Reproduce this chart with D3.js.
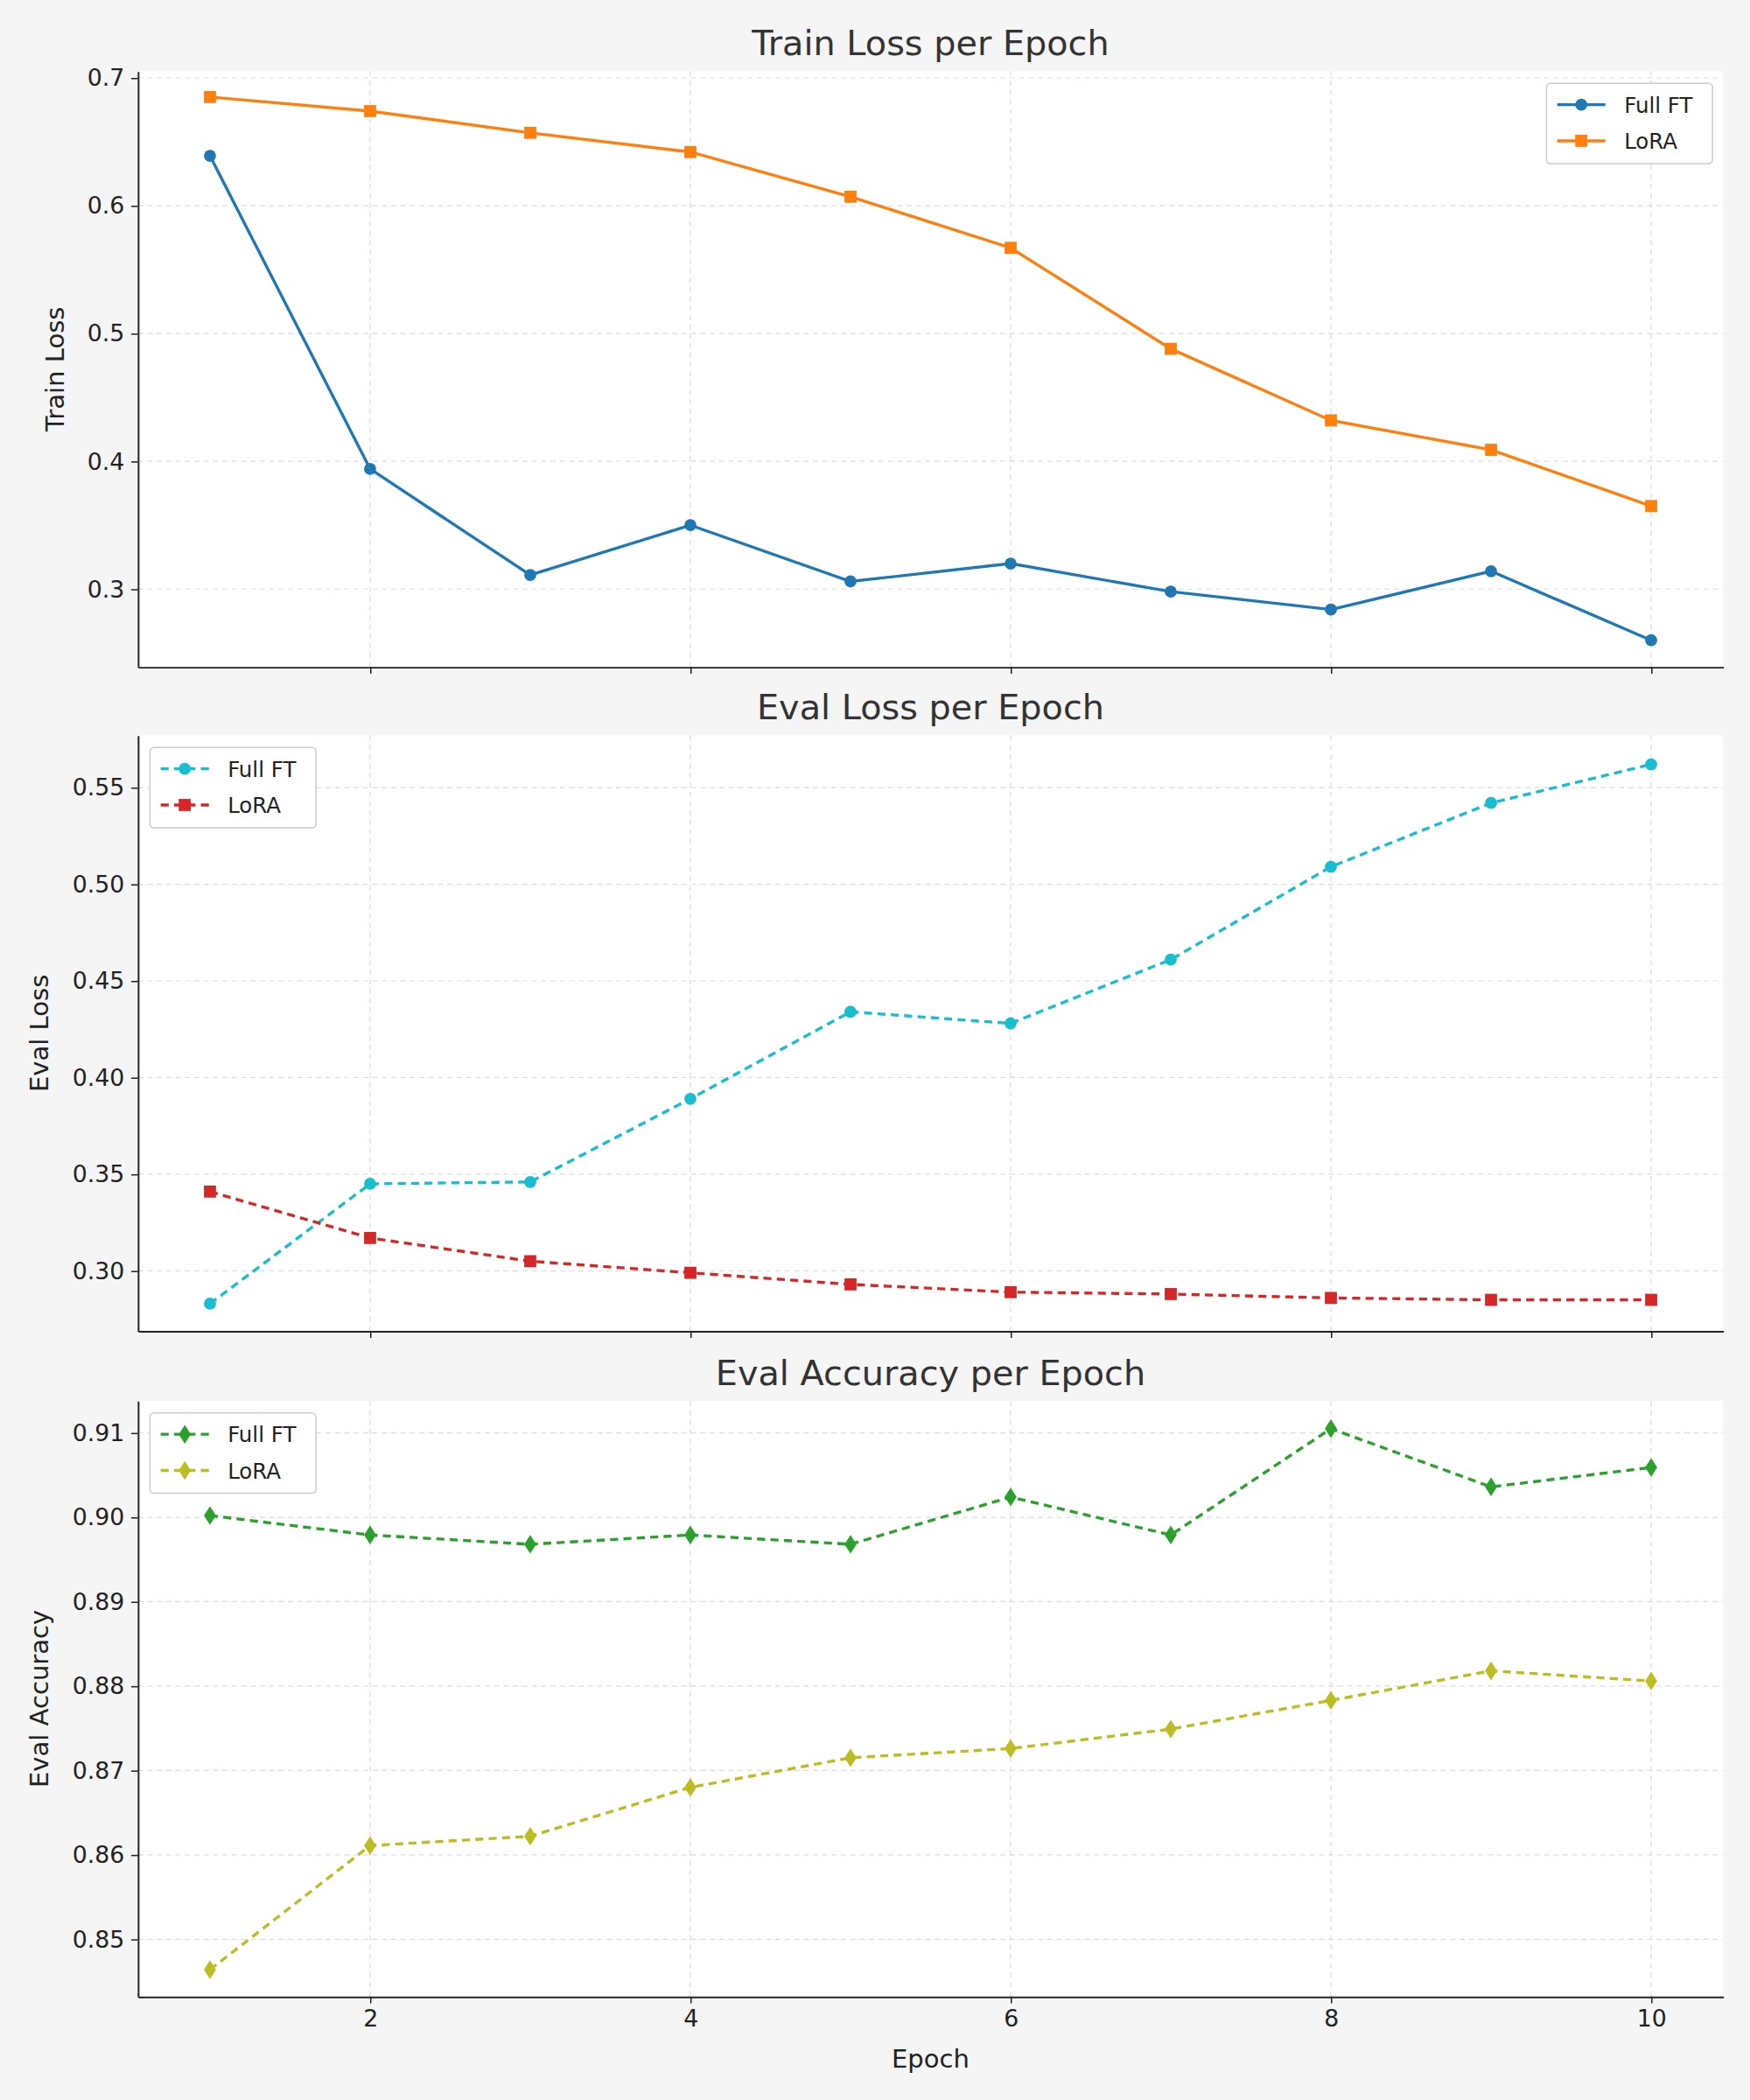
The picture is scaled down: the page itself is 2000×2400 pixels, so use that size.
<!DOCTYPE html>
<html><head><meta charset="utf-8">
<script src="https://cdn.jsdelivr.net/npm/d3@7"></script>
<style>body{margin:0;background:#f5f5f5}</style>
</head><body>
<div id="chart"></div>
<script>
var epochs = [1, 2, 3, 4, 5, 6, 7, 8, 9, 10];
var trainFull = [0.639, 0.394, 0.311, 0.350, 0.306, 0.320, 0.298, 0.284, 0.314, 0.260];
var trainLora = [0.685, 0.674, 0.657, 0.642, 0.607, 0.567, 0.488, 0.432, 0.409, 0.365];
var evalLossFull = [0.283, 0.345, 0.346, 0.389, 0.434, 0.428, 0.461, 0.509, 0.542, 0.562];
var evalLossLora = [0.341, 0.317, 0.305, 0.299, 0.293, 0.289, 0.288, 0.286, 0.285, 0.285];
var evalAccFull = [0.9002, 0.8979, 0.8968, 0.8979, 0.8968, 0.9024, 0.8979, 0.9105, 0.9036, 0.9059];
var evalAccLora = [0.8464, 0.8611, 0.8622, 0.8680, 0.8715, 0.8726, 0.8749, 0.8783, 0.8818, 0.8806];
var xTicks = [2, 4, 6, 8, 10];

var panels = [
  {title: "Train Loss per Epoch", ylabel: "Train Loss", top: 53, dom: [0.239, 0.7052],
   ticks: [0.3, 0.4, 0.5, 0.6, 0.7], fmt: ".1f", legend: "right", dash: null,
   series: [{name: "Full FT", v: trainFull, c: "#1f77b4", sym: "circle"}, {name: "LoRA", v: trainLora, c: "#ff7f0e", sym: "square"}]},
  {title: "Eval Loss per Epoch", ylabel: "Eval Loss", top: 549, dom: [0.2688, 0.577],
   ticks: [0.30, 0.35, 0.40, 0.45, 0.50, 0.55], fmt: ".2f", legend: "left", dash: "6,4",
   series: [{name: "Full FT", v: evalLossFull, c: "#17becf", sym: "circle"}, {name: "LoRA", v: evalLossLora, c: "#d62728", sym: "square"}]},
  {title: "Eval Accuracy per Epoch", ylabel: "Eval Accuracy", top: 1046, dom: [0.8432, 0.9138],
   ticks: [0.85, 0.86, 0.87, 0.88, 0.89, 0.90, 0.91], fmt: ".2f", legend: "left", dash: "6,4",
   series: [{name: "Full FT", v: evalAccFull, c: "#2ca02c", sym: "diamond"}, {name: "LoRA", v: evalAccLora, c: "#bcbd22", sym: "diamond"}]}
];

var svg = d3.select("#chart").append("svg")
  .attr("width", 2000).attr("height", 2400)
  .attr("viewBox", "0 0 1307 1568")
  .style("font-family", "DejaVu Sans, sans-serif");
svg.append("rect").attr("width", 1307).attr("height", 1568).attr("fill", "#f5f5f5");

var left = 103, right = 1287, ph = 445;
var x = d3.scaleLinear().domain([0.55, 10.45]).range([left, right]);

function marker(g, sym, cx, cy, c) {
  if (sym === "circle") g.append("circle").attr("cx", cx).attr("cy", cy).attr("r", 4.5).attr("fill", c);
  else if (sym === "square") g.append("rect").attr("x", cx - 4.5).attr("y", cy - 4.5).attr("width", 9).attr("height", 9).attr("fill", c);
  else g.append("path").attr("d", "M0,-7L4.5,0L0,7L-4.5,0Z").attr("transform", "translate(" + [cx, cy] + ")").attr("fill", c);
}

panels.forEach(function(p, i) {
  var y = d3.scaleLinear().domain(p.dom).range([p.top + ph, p.top]);
  var g = svg.append("g");
  g.append("rect").attr("x", left).attr("y", p.top).attr("width", right - left).attr("height", ph).attr("fill", "white");
  // grid
  xTicks.forEach(function(t) {
    g.append("line").attr("x1", x(t)).attr("x2", x(t)).attr("y1", p.top).attr("y2", p.top + ph)
      .attr("stroke", "#dddddd").attr("stroke-dasharray", "4,3").attr("stroke-width", 0.8);
  });
  p.ticks.forEach(function(t) {
    g.append("line").attr("x1", left).attr("x2", right).attr("y1", y(t)).attr("y2", y(t))
      .attr("stroke", "#dddddd").attr("stroke-dasharray", "4,3").attr("stroke-width", 0.8);
  });
  // axes
  var ya = g.append("g").attr("transform", "translate(" + left + ",0)")
    .call(d3.axisLeft(y).tickValues(p.ticks).tickFormat(d3.format(p.fmt)).tickSizeInner(5).tickSizeOuter(0).tickPadding(5));
  var xa = g.append("g").attr("transform", "translate(0," + (p.top + ph) + ")")
    .call(d3.axisBottom(x).tickValues(xTicks).tickSizeInner(5).tickSizeOuter(0).tickPadding(5).tickFormat(i === 2 ? d3.format("d") : ""));
  [ya, xa].forEach(function(a) {
    a.selectAll("text").attr("font-size", 17.5).attr("fill", "#222").attr("font-family", "DejaVu Sans, sans-serif");
    a.select(".domain").attr("stroke", "#222").attr("stroke-width", 1.3);
    a.selectAll(".tick line").attr("stroke", "#222");
  });
  // title + label
  g.append("text").attr("x", (left + right) / 2).attr("y", p.top - 12).attr("text-anchor", "middle")
    .attr("font-size", 26).attr("fill", "#333").text(p.title);
  g.append("text").attr("transform", "translate(" + (p.ylabel === "Train Loss" ? 48 : 36) + "," + (p.top + ph / 2) + ") rotate(-90)")
    .attr("text-anchor", "middle").attr("font-size", 19).attr("fill", "#222").text(p.ylabel);
  // series
  var line = d3.line().x(function(d, j) { return x(epochs[j]); }).y(function(d) { return y(d); });
  p.series.forEach(function(s) {
    g.append("path").datum(s.v).attr("d", line).attr("fill", "none").attr("stroke", s.c)
      .attr("stroke-width", 2.2).attr("stroke-dasharray", p.dash);
    s.v.forEach(function(d, j) { marker(g, s.sym, x(epochs[j]), y(d), s.c); });
  });
  // legend
  var lx = p.legend === "right" ? 1155 : 112, ly = p.top + 9;
  var lg = g.append("g");
  lg.append("rect").attr("x", lx).attr("y", ly).attr("width", 124).attr("height", 60).attr("rx", 3)
    .attr("fill", "white").attr("stroke", "#cccccc");
  p.series.forEach(function(s, k) {
    var yy = ly + 16 + k * 27;
    lg.append("line").attr("x1", lx + 8).attr("x2", lx + 44).attr("y1", yy).attr("y2", yy)
      .attr("stroke", s.c).attr("stroke-width", 2.2).attr("stroke-dasharray", p.dash);
    marker(lg, s.sym, lx + 26, yy, s.c);
    lg.append("text").attr("x", lx + 58).attr("y", yy + 6).attr("font-size", 16).attr("fill", "#222").text(s.name);
  });
});
svg.append("text").attr("x", (left + right) / 2).attr("y", 1544).attr("text-anchor", "middle")
  .attr("font-size", 19).attr("fill", "#222").text("Epoch");
</script>
</body></html>
